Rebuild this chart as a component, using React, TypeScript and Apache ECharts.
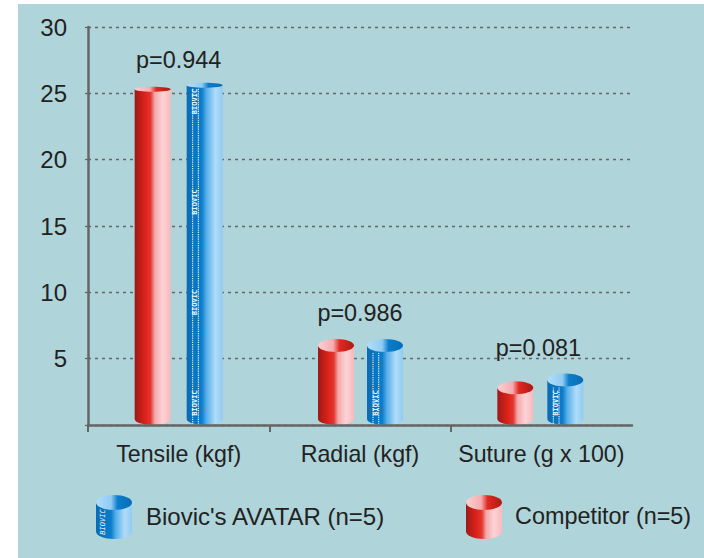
import React, { useEffect, useRef } from "react";
import * as echarts from "echarts";

const categories = ["Tensile (kgf)", "Radial (kgf)", "Suture (g x 100)"];
const competitorValues = [25.3, 6.0, 2.8];
const avatarValues = [25.6, 6.0, 3.4];
const pLabels = ["p=0.944", "p=0.986", "p=0.081"];
const pLabelLevels = [27.5, 8.45, 5.8];
const yTicks = [0, 5, 10, 15, 20, 25, 30];
const bandTicks = [0, 1, 2];
const competitorName = "Competitor (n=5)";
const avatarName = "Biovic's AVATAR (n=5)";

const FONT = '"Liberation Sans", Arial, sans-serif';
const grad = (stops: [number, string][]) => ({
  type: "linear", x: 0, y: 0, x2: 1, y2: 0,
  colorStops: stops.map(([offset, color]) => ({ offset, color })),
});
const redBody = () => grad([[0, "#9c1a16"], [0.12, "#b91d18"], [0.3, "#de231b"], [0.44, "#e2362f"], [0.56, "#f2a9ab"], [0.78, "#fdd3d5"], [1, "#f7b9bc"]]);
const redTop = () => grad([[0, "#fbd0d2"], [0.42, "#f4adb0"], [0.6, "#e2281f"], [1, "#a91b16"]]);
const blueBody = () => grad([[0, "#0a6cb4"], [0.42, "#0b7dcb"], [0.55, "#56aee8"], [0.8, "#b0dcf9"], [1, "#8fcbf3"]]);
const blueTop = () => grad([[0, "#b3def9"], [0.42, "#8fcbf3"], [0.6, "#0b7dcb"], [1, "#0a6cb4"]]);

function cylinderPath(cx: number, top: number, bottom: number, hw: number, ryBot: number) {
  const l = cx - hw;
  const r = cx + hw;
  return `M${l} ${top}L${l} ${bottom - ryBot}A${hw} ${ryBot} 0 0 0 ${r} ${bottom - ryBot}L${r} ${top}Z`;
}

function makeRender(shifts: number[], isBlue: boolean) {
  return (params: any, api: any) => {
    const base = api.coord([api.value(0), 0]);
    const pt = api.coord([api.value(0), api.value(1)]);
    const cx = pt[0] + shifts[params.dataIndex];
    const top = pt[1];
    const bottom = base[1];
    const hw = 18;
    const h = bottom - top;
    const ryTop = h > 200 ? 2.5 : 6.5;
    const ryBot = 6;
    const children: any[] = [
      { type: "path", shape: { pathData: cylinderPath(cx, top, bottom, hw, ryBot), layout: "cover", x: cx - hw, y: top, width: hw * 2, height: h }, style: { fill: isBlue ? blueBody() : redBody() } },
      { type: "ellipse", shape: { cx, cy: top, rx: hw, ry: ryTop }, style: { fill: isBlue ? blueTop() : redTop() } },
    ];
    if (isBlue) {
      const y1 = top + ryTop + 1;
      const line = (x: number) => ({ type: "line", shape: { x1: x, y1, x2: x, y2: bottom - 1 }, style: { stroke: "#eef8fe", lineWidth: 1.1, lineDash: [1.2, 1] } });
      children.push(line(cx - 12), line(cx - 6.3));
      for (let d = 22; d < h - 10; d += 100.5) {
        children.push({
          type: "text", x: cx - 9.2, y: bottom - d, rotation: Math.PI / 2,
          style: { text: "BIOVIC", font: 'bold 7px "DejaVu Sans Mono", monospace', fill: "#eaf6fd", align: "center", verticalAlign: "middle" },
        });
      }
    }
    return { type: "group", children };
  };
}

const pShifts = [0, 0, -3];
function renderP(params: any, api: any) {
  const pt = api.coord([api.value(0), api.value(1)]);
  return {
    type: "text", x: pt[0] + pShifts[params.dataIndex], y: pt[1],
    style: { text: pLabels[params.dataIndex], font: `23.4px ${FONT}`, fill: "#222", align: "center", verticalAlign: "middle" },
  };
}

function legendIcon(x: number, isBlue: boolean) {
  const hw = 18, top = 502.5, bottom = 539, ry = 7.5;
  const cx = x + hw;
  const children: any[] = [
    { type: "rect", shape: { x, y: top, width: hw * 2, height: bottom - top - ry }, style: { fill: isBlue ? blueBody() : redBody() } },
    { type: "ellipse", shape: { cx, cy: bottom - ry, rx: hw, ry }, style: { fill: isBlue ? blueBody() : redBody() } },
    { type: "ellipse", shape: { cx, cy: top, rx: hw, ry }, style: { fill: isBlue ? blueTop() : redTop() } },
  ];
  if (isBlue) {
    children.push({ type: "text", x: x + 7, y: 522, rotation: Math.PI / 2, style: { text: "BIOVIC", font: 'italic 7px "DejaVu Sans Mono", monospace', fill: "#eaf6fd", align: "center", verticalAlign: "middle" } });
  }
  return { type: "group", children };
}

export default function App() {
  const ref = useRef<HTMLDivElement>(null);
  useEffect(() => {
    const chart = echarts.init(ref.current!, null, { renderer: "svg" });
    chart.setOption({
      animation: false,
      backgroundColor: "#ffffff",
      graphic: [
        { type: "rect", z: -10, silent: true, shape: { x: 18, y: 4, width: 686, height: 554 }, style: { fill: "#afd4d9" } },
        legendIcon(96, true),
        legendIcon(466, false),
        { type: "text", x: 146, y: 516, style: { text: avatarName, font: `24px ${FONT}`, fill: "#222", verticalAlign: "middle" } },
        { type: "text", x: 515, y: 516, style: { text: competitorName, font: `23.4px ${FONT}`, fill: "#222", verticalAlign: "middle" } },
      ],
      grid: { left: 88, right: 72, top: 27, bottom: 133 },
      xAxis: [
        {
          type: "category",
          data: categories,
          axisLine: { lineStyle: { color: "#666", width: 2.5 } },
          axisTick: { show: false },
          axisLabel: { fontFamily: FONT, fontSize: 23.2, color: "#222", margin: 17, interval: 0 },
          z: 10,
        },
        {
          type: "value",
          position: "bottom",
          min: 0,
          max: 3,
          interval: 1,
          axisLine: { show: false },
          axisLabel: { show: false },
          splitLine: { show: false },
          axisTick: { show: true, length: 7, customValues: bandTicks, lineStyle: { color: "#666", width: 2 } },
          z: 10,
        },
      ],
      yAxis: {
        type: "value",
        min: 0,
        max: 30,
        interval: 5,
        axisLine: { show: true, lineStyle: { color: "#666", width: 2.5 } },
        axisTick: { show: true, length: 4, lineStyle: { color: "#666", width: 1.3, type: [3, 4] } },
        axisLabel: {
          fontFamily: FONT, fontSize: 24, color: "#222", margin: 21,
          formatter: (v: number) => (v === 0 || !yTicks.includes(v) ? "" : String(v)),
        },
        splitLine: { show: true, lineStyle: { color: "#666", width: 1.3, type: [3, 4] } },
      },
      series: [
        { type: "custom", name: competitorName, renderItem: makeRender([-26, -24, -26], false), data: competitorValues.map((v, i) => [i, v]), z: 3 },
        { type: "custom", name: avatarName, renderItem: makeRender([26, 25, 24], true), data: avatarValues.map((v, i) => [i, v]), z: 3 },
        { type: "custom", name: "p", renderItem: renderP, data: pLabelLevels.map((v, i) => [i, v]), z: 4 },
      ],
    });
    return () => chart.dispose();
  }, []);
  return <div ref={ref} style={{ position: "fixed", left: 0, top: 0, width: 704, height: 558 }} />;
}
